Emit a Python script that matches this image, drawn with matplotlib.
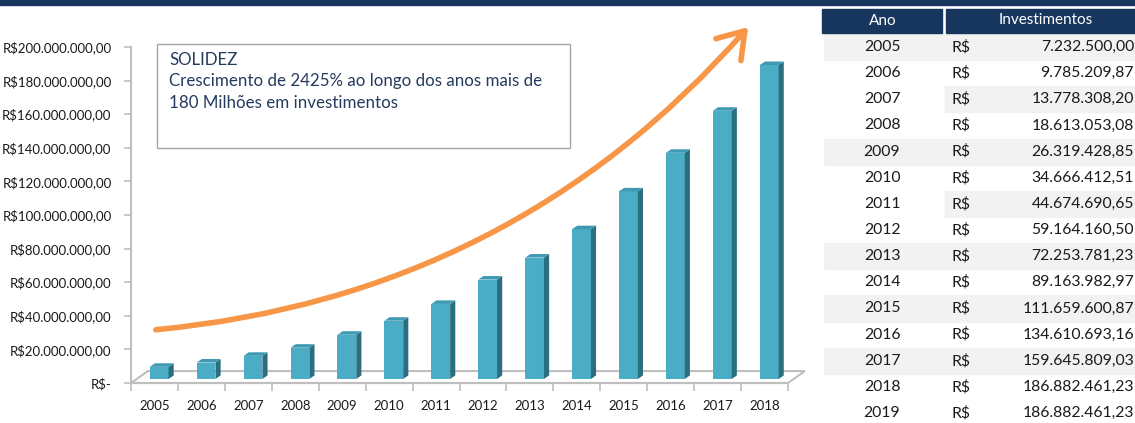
import matplotlib
matplotlib.use("Agg")
import matplotlib.pyplot as plt
from matplotlib.patches import Rectangle, Polygon, FancyArrowPatch

plt.rcParams["font.family"] = ["Lato", "DejaVu Sans"]

anos = [2005, 2006, 2007, 2008, 2009, 2010, 2011, 2012, 2013, 2014,
        2015, 2016, 2017, 2018, 2019]
investimentos = [7232500.00, 9785209.87, 13778308.20, 18613053.08,
                 26319428.85, 34666412.51, 44674690.65, 59164160.50,
                 72253781.23, 89163982.97, 111659600.87, 134610693.16,
                 159645809.03, 186882461.23, 186882461.23]
anos_grafico = anos[:14]
valores_grafico = investimentos[:14]
yticks = [0, 20e6, 40e6, 60e6, 80e6, 100e6, 120e6, 140e6, 160e6, 180e6, 200e6]

titulo_caixa = "SOLIDEZ"
texto_caixa = "Crescimento de 2425% ao longo dos anos mais de\n180 Milhões em investimentos"

NAVY = "#17365D"
FRONT = "#4BACC6"
SIDE = "#2A6E80"
TOP = "#3E9AB3"
GRID = "#BFBFBF"
ORANGE = "#F79646"
TXT = "#1A1A1A"

W, H = 1135, 423


def brl(v):
    s = f"{v:,.2f}"
    return s.replace(",", "X").replace(".", ",").replace("X", ".")


def fx(px):
    return px / W


def fy(py):
    return 1 - py / H


fig = plt.figure(figsize=(W / 100, H / 100), dpi=100)

# top banner
fig.patches.append(Rectangle((0, fy(5.5)), 1, 5.5 / H, transform=fig.transFigure,
                             color=NAVY, zorder=0))

# chart
ax = fig.add_axes([fx(131), fy(383), (788 - 131) / W, (383 - 47) / H])
ax.set_xlim(-0.5, len(anos_grafico) - 0.5)
ax.set_ylim(0, 200e6)
for s in ["top", "right"]:
    ax.spines[s].set_visible(False)
ax.spines["left"].set_color(GRID)
ax.spines["left"].set_linewidth(1.5)
ax.spines["bottom"].set_color(GRID)
ax.spines["bottom"].set_linewidth(1.5)

ax.set_yticks(yticks)
ax.set_yticklabels(["R$-"] + ["R$" + brl(v) for v in yticks[1:]])
ax.tick_params(axis="y", length=5, color=GRID, width=1.2, pad=9,
               labelsize=9.5, labelcolor=TXT)

xs = list(range(len(anos_grafico)))
ax.set_xticks(xs)
ax.set_xticklabels([str(a) for a in anos_grafico])
ax.set_xticks([x - 0.5 for x in xs] + [xs[-1] + 0.5], minor=True)
ax.tick_params(axis="x", which="major", length=0, pad=12, labelsize=9.5,
               labelcolor=TXT)
ax.tick_params(axis="x", which="minor", length=6, color=GRID, width=1.2)

# floor of the 3D chart
fdx, fdy = 0.36, 7.1e6
n = len(anos_grafico)
ax.add_patch(Polygon([(-0.5, 0), (n - 0.5, 0), (n - 0.5 + fdx, fdy), (-0.5 + fdx, fdy)],
                     closed=True, facecolor="white", edgecolor=GRID, lw=1.5,
                     clip_on=False, zorder=1))

# bars with side and top faces
bw, shift, b0 = 0.40, 0.10, 2.4e6
ddx, ddy = 0.11, 2.1e6
ax.bar([x + shift for x in xs], valores_grafico, width=bw, bottom=b0,
       color=FRONT, zorder=3, clip_on=False)
for x, v in zip(xs, valores_grafico):
    xr = x + shift + bw / 2
    xl = x + shift - bw / 2
    ax.add_patch(Polygon([(xr, b0), (xr + ddx, b0 + ddy), (xr + ddx, b0 + v + ddy), (xr, b0 + v)],
                         closed=True, facecolor=SIDE, edgecolor="none", zorder=3, clip_on=False))
    ax.add_patch(Polygon([(xl, b0 + v), (xr, b0 + v), (xr + ddx, b0 + v + ddy), (xl + ddx, b0 + v + ddy)],
                         closed=True, facecolor=TOP, edgecolor="none", zorder=3, clip_on=False))

# growth arrow
arrow = FancyArrowPatch((fx(153), fy(330)), (fx(750), fy(25)), transform=fig.transFigure,
                        connectionstyle="arc3,rad=0.2",
                        arrowstyle="->,head_length=0.6,head_width=0.4", mutation_scale=30,
                        color=ORANGE, lw=4, capstyle="round", zorder=5)
fig.patches.append(arrow)

# text box
fig.patches.append(Rectangle((fx(157), fy(148)), (570 - 157) / W, (148 - 44) / H,
                             transform=fig.transFigure, facecolor="white",
                             edgecolor="#A6A6A6", lw=1, zorder=4))
fig.text(fx(169), fy(52), titulo_caixa + "\n" + texto_caixa, ha="left", va="top",
         fontsize=12.2, color="#243B5E", linespacing=1.42, zorder=6)

# table
row_h = 26.14
row_top = 34
fig.patches.append(Rectangle((fx(822), fy(33)), (942 - 822) / W, 24 / H,
                             transform=fig.transFigure, color=NAVY))
fig.patches.append(Rectangle((fx(946), fy(33)), (1140 - 946) / W, 24 / H,
                             transform=fig.transFigure, color=NAVY))
fig.text(fx(883), fy(21), "Ano", ha="center", va="center", color="white", fontsize=11)
fig.text(fx(1046), fy(20), "Investimentos", ha="center", va="center", color="white",
         fontsize=11)
partial = [2007, 2011]
for i, (a, v) in enumerate(zip(anos, investimentos)):
    top = row_top + i * row_h
    cy = top + row_h / 2
    if i % 2 == 0 and a != 2019:
        x0 = 945 if a in partial else 824
        fig.patches.append(Rectangle((fx(x0), fy(top + row_h)), (1140 - x0) / W, row_h / H,
                                     transform=fig.transFigure, color="#F2F2F2", zorder=0))
    fig.text(fx(882), fy(cy), str(a), ha="center", va="center", fontsize=11.3, color=TXT)
    fig.text(fx(951), fy(cy), "R$", ha="left", va="center", fontsize=11.3, color=TXT)
    fig.text(fx(1134), fy(cy), brl(v), ha="right", va="center", fontsize=11.3, color=TXT)

fig.savefig("out.png", dpi=100)
